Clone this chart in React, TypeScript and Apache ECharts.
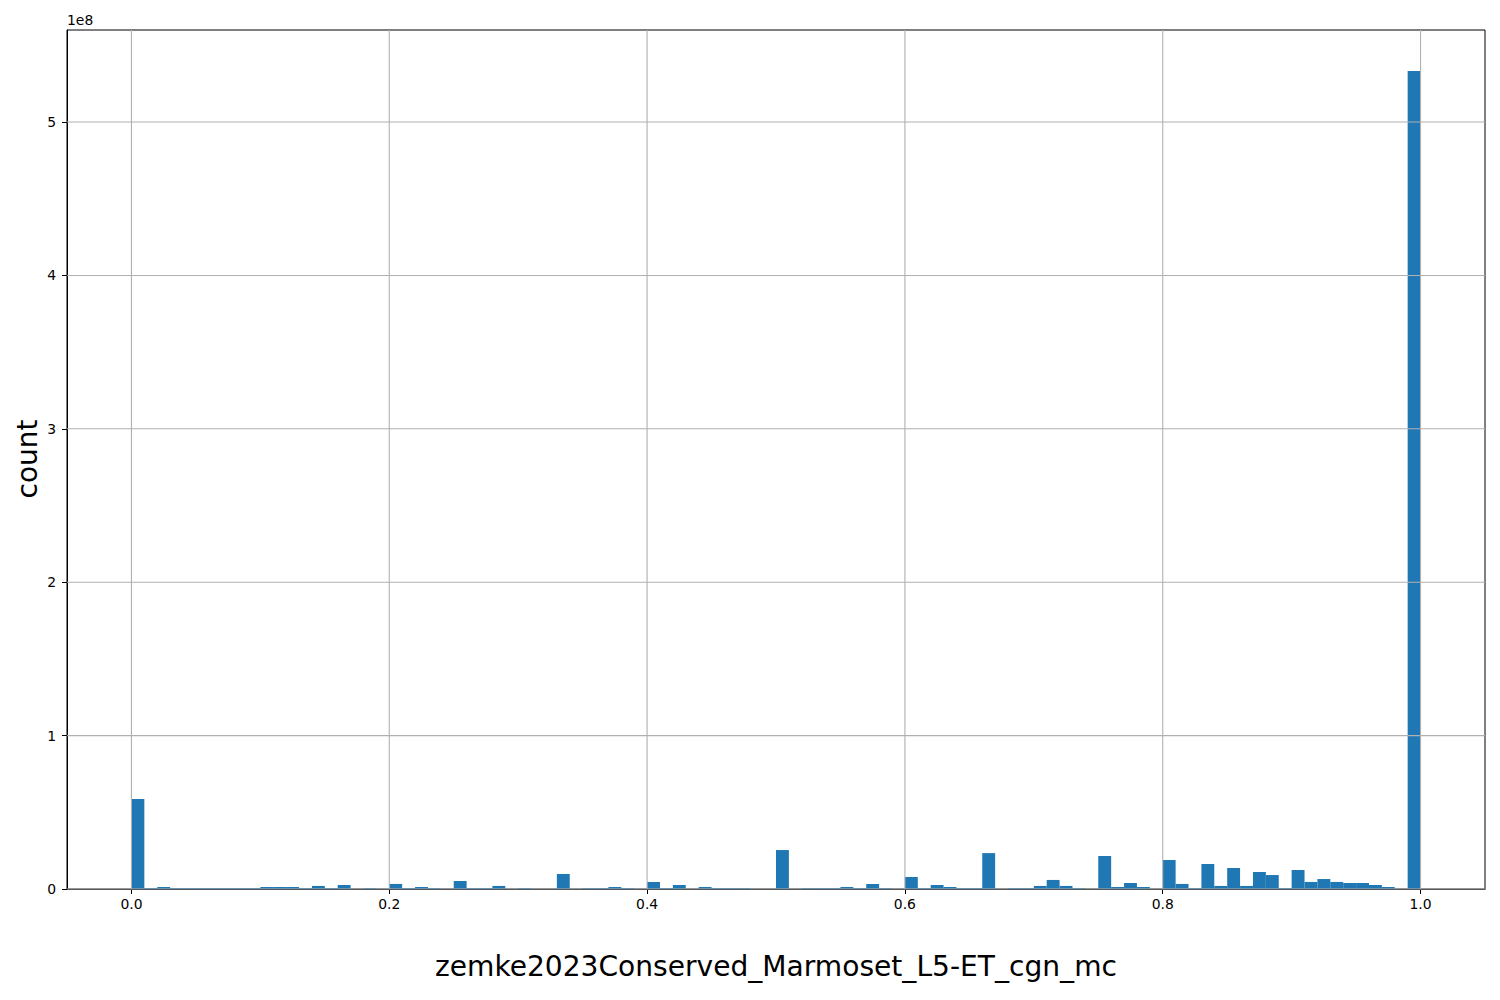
import React, { useEffect, useRef } from 'react';
import * as echarts from 'echarts';

// Histogram: 100 bins of width 0.01 over [0, 1]; counts in millions
const BIN_START = 0;
const BIN_WIDTH = 0.01;
const COUNTS_MILLIONS = [
  58.7, 0.65, 1.3, 0.65, 0.65, 0.65, 0.65, 0.65, 0.65, 0.65,
  1.3, 1.3, 1.3, 0.65, 2.0, 0.65, 2.6, 0, 0.65, 0,
  3.3, 0.65, 1.3, 0.65, 0, 5.2, 0.65, 0.65, 2.0, 0,
  0.65, 0, 0, 9.8, 0, 0.65, 0.65, 1.3, 0.65, 0,
  4.6, 0.65, 2.6, 0, 1.3, 0.65, 0.65, 0.65, 0, 0,
  25.4, 0, 0.65, 0.65, 0.65, 1.3, 0.65, 3.3, 0.65, 0,
  7.8, 0.65, 2.6, 1.3, 0.65, 0.65, 23.4, 0, 0.65, 0.65,
  2.0, 5.9, 2.0, 0.65, 0, 21.5, 1.3, 3.9, 1.3, 0,
  18.9, 3.3, 0.65, 16.3, 2.0, 13.7, 2.0, 11.1, 9.1, 0.65,
  12.4, 4.6, 6.5, 4.6, 3.9, 3.9, 2.6, 1.3, 0, 533.2,
];

const X_TICKS = [0, 0.2, 0.4, 0.6, 0.8, 1.0];
const X_TICK_LABELS = ['0.0', '0.2', '0.4', '0.6', '0.8', '1.0'];
const Y_TICKS = [0, 1e8, 2e8, 3e8, 4e8, 5e8];
const Y_TICK_LABELS = ['0', '1', '2', '3', '4', '5'];
const X_MIN = -0.05;
const X_MAX = 1.05;
const Y_MIN = 0;
const Y_MAX = 5.6e8;

const X_LABEL = 'zemke2023Conserved_Marmoset_L5-ET_cgn_mc';
const Y_LABEL = 'count';
const Y_OFFSET_LABEL = '1e8';

const BAR_COLOR = '#1f77b4';
const GRID_COLOR = '#b0b0b0';
const FONT = 'DejaVu Sans';

function labelFor(ticks: number[], labels: string[], v: number): string {
  for (let i = 0; i < ticks.length; i++) {
    if (Math.abs(ticks[i] - v) < 1e-6 * Math.max(1, Math.abs(ticks[i]))) return labels[i];
  }
  return '';
}

export default function App() {
  const ref = useRef<HTMLDivElement>(null);

  useEffect(() => {
    if (!ref.current) return;
    const chart = echarts.init(ref.current, null, { renderer: 'svg' });

    const barData = COUNTS_MILLIONS.map((c, i) => [
      BIN_START + i * BIN_WIDTH,
      BIN_START + (i + 1) * BIN_WIDTH,
      c * 1e6,
    ]);

    const option: any = {
      animation: false,
      backgroundColor: '#ffffff',
      grid: {
        left: 67,
        right: 15,
        top: 30,
        bottom: 111,
        show: true,
        borderColor: '#000000',
        borderWidth: 1,
        backgroundColor: 'transparent',
      },
      xAxis: {
        type: 'value',
        min: X_MIN,
        max: X_MAX,
        axisLine: { show: true, onZero: false, lineStyle: { color: '#000', width: 1 } },
        axisTick: {
          show: true,
          length: 5,
          lineStyle: { color: '#000', width: 1 },
          customValues: X_TICKS,
        },
        axisLabel: {
          show: true,
          margin: 8,
          color: '#000',
          fontFamily: FONT,
          fontSize: 13.9,
          customValues: X_TICKS,
          formatter: (v: number) => labelFor(X_TICKS, X_TICK_LABELS, v),
        },
        splitLine: { show: false },
      },
      yAxis: {
        type: 'value',
        min: Y_MIN,
        max: Y_MAX,
        axisLine: { show: true, onZero: false, lineStyle: { color: '#000', width: 1 } },
        axisTick: {
          show: true,
          length: 5,
          lineStyle: { color: '#000', width: 1 },
          customValues: Y_TICKS,
        },
        axisLabel: {
          show: true,
          margin: 11,
          color: '#000',
          fontFamily: FONT,
          fontSize: 13.9,
          customValues: Y_TICKS,
          formatter: (v: number) => labelFor(Y_TICKS, Y_TICK_LABELS, v),
        },
        splitLine: { show: false },
      },
      series: [
        {
          type: 'custom',
          name: 'bars',
          z: 2,
          clip: true,
          encode: { x: [0, 1], y: 2 },
          data: barData,
          renderItem: (params: any, api: any) => {
            const x0 = api.value(0);
            const x1 = api.value(1);
            const v = api.value(2);
            const p0 = api.coord([x0, v]);
            const p1 = api.coord([x1, 0]);
            return {
              type: 'rect',
              shape: { x: p0[0], y: p0[1], width: p1[0] - p0[0], height: p1[1] - p0[1] },
              style: { fill: BAR_COLOR },
            };
          },
        },
        {
          type: 'custom',
          name: 'vgrid',
          z: 3,
          silent: true,
          encode: { x: 0, y: 1 },
          data: X_TICKS.map((v) => [v, Y_MIN]),
          renderItem: (params: any, api: any) => {
            const v = api.value(0);
            const a = api.coord([v, Y_MIN]);
            const b = api.coord([v, Y_MAX]);
            return {
              type: 'line',
              shape: { x1: a[0], y1: a[1], x2: b[0], y2: b[1] },
              style: { stroke: GRID_COLOR, lineWidth: 1.1 },
            };
          },
        },
        {
          type: 'custom',
          name: 'hgrid',
          z: 3,
          silent: true,
          encode: { x: 0, y: 1 },
          data: Y_TICKS.map((v) => [X_MIN, v]),
          renderItem: (params: any, api: any) => {
            const v = api.value(1);
            const a = api.coord([X_MIN, v]);
            const b = api.coord([X_MAX, v]);
            return {
              type: 'line',
              shape: { x1: a[0], y1: a[1], x2: b[0], y2: b[1] },
              style: { stroke: GRID_COLOR, lineWidth: 1.1 },
            };
          },
        },
      ],
      graphic: [
        {
          type: 'text',
          left: 67,
          top: 13,
          style: { text: Y_OFFSET_LABEL, fill: '#000', font: `13.9px "${FONT}"` },
        },
        {
          type: 'text',
          x: 27,
          y: 459,
          rotation: Math.PI / 2,
          style: {
            text: Y_LABEL,
            fill: '#000',
            font: `28px "${FONT}"`,
            align: 'center',
            verticalAlign: 'middle',
          },
        },
        {
          type: 'text',
          x: 776,
          y: 966,
          style: {
            text: X_LABEL,
            fill: '#000',
            font: `28.1px "${FONT}"`,
            align: 'center',
            verticalAlign: 'middle',
          },
        },
      ],
    };

    chart.setOption(option);
    return () => chart.dispose();
  }, []);

  return (
    <div
      ref={ref}
      style={{ position: 'fixed', left: 0, top: 0, width: 1500, height: 1000, background: '#fff' }}
    />
  );
}
